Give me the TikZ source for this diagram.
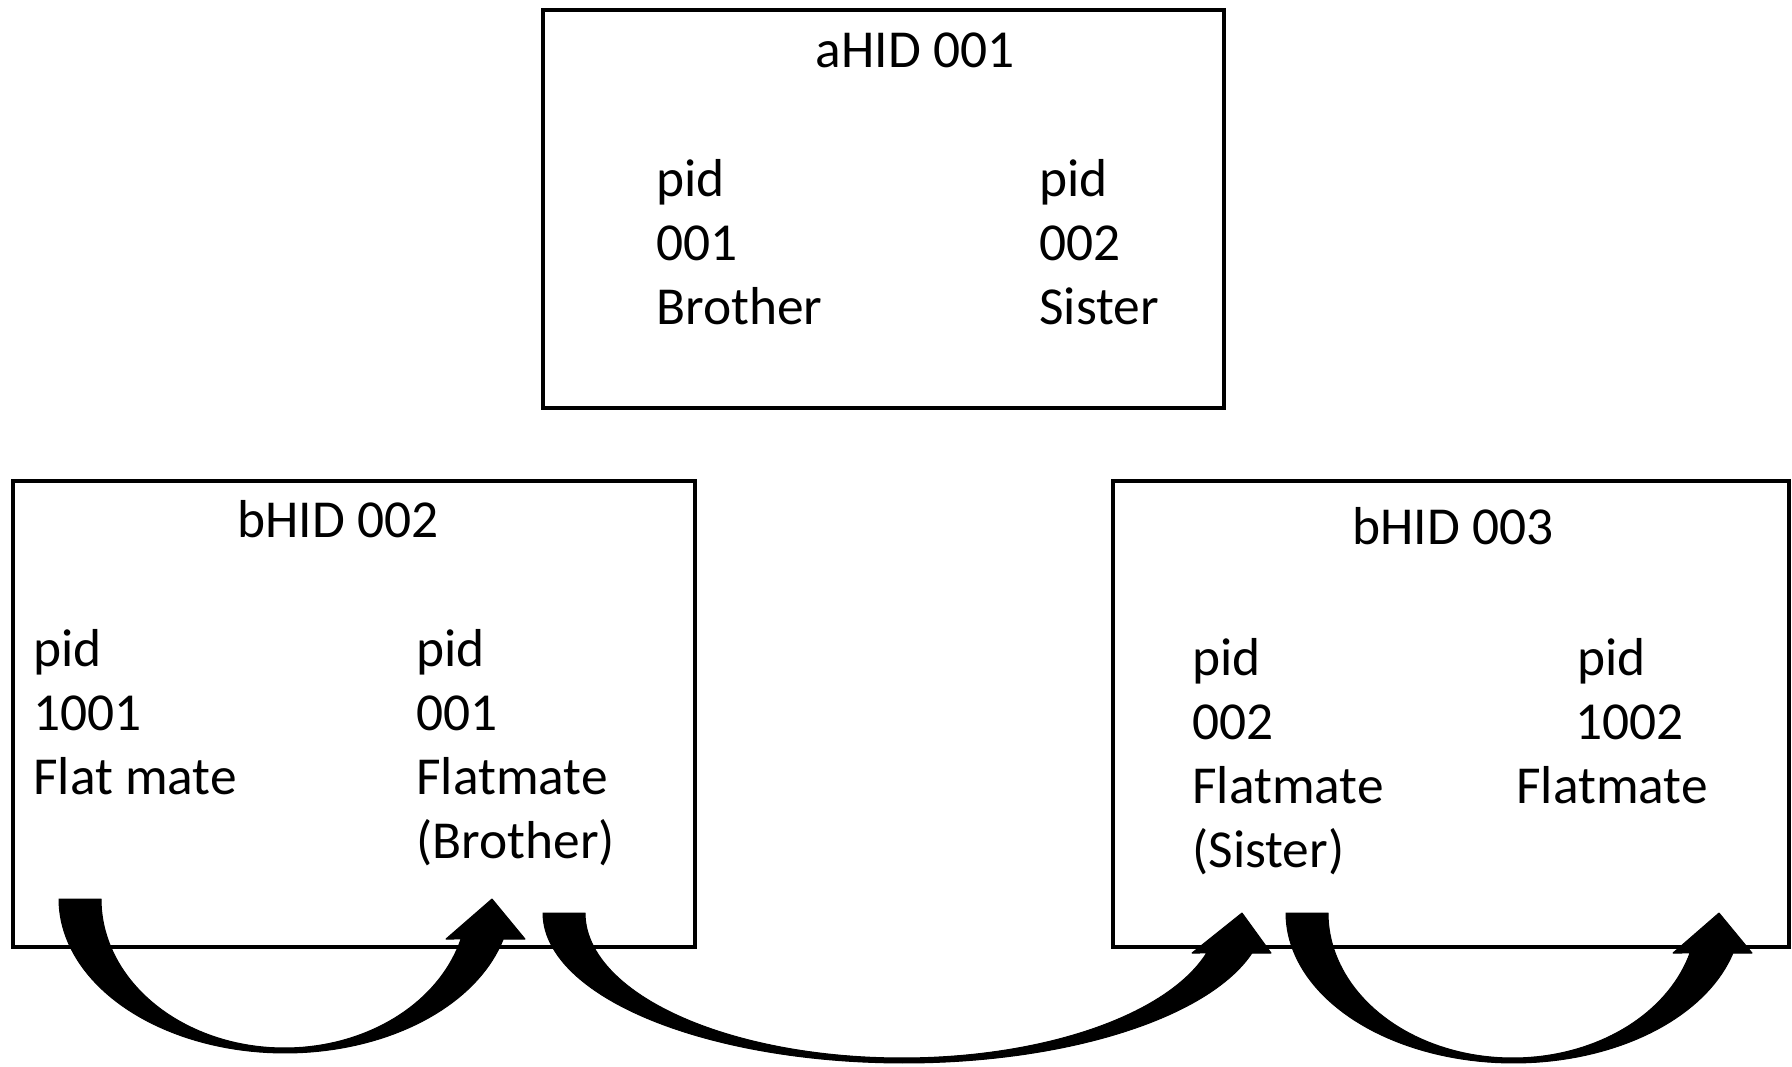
\documentclass[tikz,border=0pt]{standalone}
\usepackage{fontspec}
\setmainfont{Carlito}
\begin{document}
\begin{tikzpicture}[x=0.02cm,y=-0.02cm,
  house/.style={draw=black, line width=0.085cm, inner sep=0pt, minimum width=#1},
  label/.style={anchor=base west, inner sep=0pt, font=\fontsize{30.4}{36}\selectfont},
  title/.style={anchor=base, inner sep=0pt, font=\fontsize{30.4}{36}\selectfont},
  bigarrow/.style={fill=black, draw=black, line width=0.02cm, line join=round}]
\useasboundingbox (0,0) rectangle (1792,1067);

% households
\node[house=13.62cm, minimum height=7.96cm] (hA) at (883.5,209) {};
\node[house=13.64cm, minimum height=9.32cm] (hB) at (354,714) {};
\node[house=13.52cm, minimum height=9.32cm] (hC) at (1451,714) {};

% aHID 001
\node[title] (tA) at (915,68) {aHID 001};
\node[label] (a1) at (656,197) {pid};
\node[label] (a2) at (656,261) {001};
\node[label] (a3) at (656,325) {Brother};
\node[label] (a4) at (1039,197) {pid};
\node[label] (a5) at (1039,261) {002};
\node[label] (a6) at (1039,325) {Sister};

% bHID 002
\node[title] (tB) at (338,537) {bHID 002};
\node[label] (b1) at (33,666) {pid};
\node[label] (b2) at (33,730) {1001};
\node[label] (b3) at (33,794) {Flat mate};
\node[label] (b4) at (416,666) {pid};
\node[label] (b5) at (416,730) {001};
\node[label] (b6) at (416,794) {Flatmate};
\node[label] (b7) at (416,858) {(Brother)};

% bHID 003
\node[title] (tC) at (1453,544) {bHID 003};
\node[label] (c1) at (1192,675) {pid};
\node[label] (c2) at (1192,739) {002};
\node[label] (c3) at (1192,803) {Flatmate};
\node[label] (c4) at (1192,867) {(Sister)};
\node[label] (c5) at (1577,675) {pid};
\node[label] (c6) at (1575,739) {1002};
\node[label] (c7) at (1516,803) {Flatmate};

% arrow heads: left corner, tip, right corner
\coordinate (p1l) at (446,939); \coordinate (p1t) at (492,899); \coordinate (p1r) at (525,939);
\coordinate (p2l) at (1192,953); \coordinate (p2t) at (1242,913); \coordinate (p2r) at (1271,953);
\coordinate (p3l) at (1673,953); \coordinate (p3t) at (1719,913); \coordinate (p3r) at (1752,953);

% curved block arrows: outer arc, head, inner arc back to the tail
\draw[bigarrow]
  plot[domain=180:15.06, samples=80] ({285+226*cos(\x)},{899+154*sin(\x)})
  -- (p1r) -- (p1t) -- (p1l)
  -- plot[domain=15.57:180, samples=80] ({284.4+183.4*cos(\x)},{899+149*sin(\x)})
  -- cycle;
\draw[bigarrow]
  plot[domain=180:15.47, samples=100] ({904+361*cos(\x)},{913+150*sin(\x)})
  -- (p2r) -- (p2t) -- (p2l)
  -- plot[domain=16.01:180, samples=100] ({902+317*cos(\x)},{913+145*sin(\x)})
  -- cycle;
\draw[bigarrow]
  plot[domain=180:15.47, samples=80] ({1513.6+227.6*cos(\x)},{913+150*sin(\x)})
  -- (p3r) -- (p3t) -- (p3l)
  -- plot[domain=16.01:180, samples=80] ({1512.6+184.6*cos(\x)},{913+145*sin(\x)})
  -- cycle;
\end{tikzpicture}
\end{document}
